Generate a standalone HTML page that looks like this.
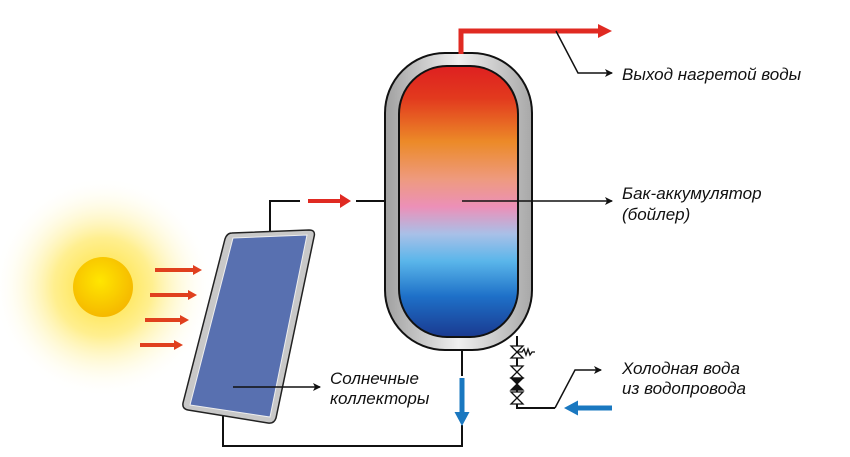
<!DOCTYPE html>
<html><head><meta charset="utf-8"><style>
html,body{margin:0;padding:0;background:#fff;width:850px;height:457px;overflow:hidden}
text{font-family:"Liberation Sans",sans-serif;font-style:italic;font-size:17px;fill:#111}
</style></head><body>
<svg width="850" height="457" viewBox="0 0 850 457" xmlns="http://www.w3.org/2000/svg">
<defs>
<radialGradient id="glow" cx="0.5" cy="0.5" r="0.5">
<stop offset="0" stop-color="#ffe030"/><stop offset="0.45" stop-color="#ffef90"/><stop offset="1" stop-color="#fff" stop-opacity="0"/>
</radialGradient>
<radialGradient id="sun" cx="0.45" cy="0.4" r="0.6">
<stop offset="0" stop-color="#ffe600"/><stop offset="1" stop-color="#f5b800"/>
</radialGradient>
<linearGradient id="water" x1="0" y1="0" x2="0" y2="1">
<stop offset="0" stop-color="#de2020"/><stop offset="0.12" stop-color="#e23a1e"/>
<stop offset="0.28" stop-color="#ec8a28"/><stop offset="0.42" stop-color="#ee9a80"/>
<stop offset="0.52" stop-color="#ec90b8"/><stop offset="0.62" stop-color="#a8c0e8"/>
<stop offset="0.72" stop-color="#5ab6ea"/><stop offset="0.85" stop-color="#1e70c8"/>
<stop offset="1" stop-color="#1a3a90"/>
</linearGradient>
<linearGradient id="shell" x1="0" y1="0" x2="1" y2="0">
<stop offset="0" stop-color="#a0a0a0"/><stop offset="0.5" stop-color="#f0f0f0"/><stop offset="1" stop-color="#a8a8a8"/>
</linearGradient>
<marker id="ab" markerWidth="8" markerHeight="8" refX="7" refY="4" orient="auto" markerUnits="userSpaceOnUse"><path d="M0,0 L8,4 L0,8 L2,4z" fill="#111"/></marker>
</defs>
<circle cx="103" cy="287" r="110" fill="url(#glow)"/>
<circle cx="103" cy="287" r="30" fill="url(#sun)"/>
<g fill="#e0401e">
<path d="M155,268 h38 v-3 l9,5 -9,5 v-3 h-38z"/>
<path d="M150,293 h38 v-3 l9,5 -9,5 v-3 h-38z"/>
<path d="M145,318 h35 v-3 l9,5 -9,5 v-3 h-35z"/>
<path d="M140,343 h34 v-3 l9,5 -9,5 v-3 h-34z"/>
</g>
<g stroke="#111" stroke-width="2" fill="none">
<path d="M270,232 V201 H300"/>
<path d="M356,201 H402"/>
<path d="M223,414 V446 H462 V425"/>
<path d="M462,350 V376"/>
<path d="M517,336 V408 H555"/>
</g>
<path d="M232,233 L309,230 Q316,230 314,237 L276,418 Q274,424 268,423 L188,410 Q182,409 183,403 L225,239 Q227,233 232,233z" fill="#c8c8c8" stroke="#222" stroke-width="1.5"/>
<path d="M233,238 L307,235 L270,417 L190,405z" fill="#5870b0" stroke="#eee" stroke-width="1"/>
<path d="M308,199 h32 v-5 l11,7 -11,7 v-5 h-32z" fill="#e02a22"/>
<rect x="385" y="53" width="147" height="297" rx="60" fill="url(#shell)" stroke="#111" stroke-width="2"/>
<rect x="399" y="66" width="119" height="271" rx="48" fill="url(#water)" stroke="#111" stroke-width="2"/>
<path d="M461,54 V31 H600" stroke="#e02a22" stroke-width="5" fill="none"/>
<path d="M598,24 L612,31 L598,38z" fill="#e02a22"/>
<path d="M459.5,378 h5 v34 h5 l-7.5,14 -7.5,-14 h5z" fill="#1a78c0"/>
<path d="M612,405.5 v5 h-34 v5 l-14,-7.5 14,-7.5 v5z" fill="#1a78c0"/>
<g stroke="#111" stroke-width="1.3" fill="#fff">
<path d="M511,346 L523,346 L511,358 L523,358z"/>
<path d="M511,366 L523,366 L511,378 L523,378z"/>
<path d="M511,392 L523,392 L511,404 L523,404z"/>
<path d="M511,378 L523,378 L517,384z" fill="#111"/>
<path d="M511,390 L523,390 L517,384z" fill="#111"/>
<path d="M517,352 h5 l2,-3 2,6 2,-6 2,6 2,-3 h3" fill="none"/>
</g>
<g stroke="#111" stroke-width="1.5" fill="none" marker-end="url(#ab)">
<path d="M556,31 L578,73 H612"/>
<path d="M462,201 H612"/>
<path d="M233,387 H320"/>
<path d="M555,408 L575,370 H601"/>
</g>
<text x="622" y="80">Выход нагретой воды</text>
<text x="622" y="199">Бак-аккумулятор</text>
<text x="622" y="220">(бойлер)</text>
<text x="330" y="384">Солнечные</text>
<text x="330" y="404">коллекторы</text>
<text x="622" y="374">Холодная вода</text>
<text x="622" y="394">из водопровода</text>
</svg>
</body></html>
